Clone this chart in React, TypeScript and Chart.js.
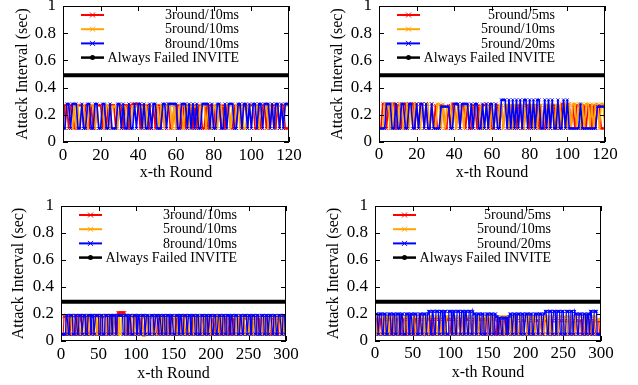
import React, { useEffect, useRef } from "react";
import { Chart, registerables } from "chart.js";

Chart.register(...registerables);

const FONT = "'Liberation Serif', 'Times New Roman', Times, serif";

// ---------- tick labels / texts ----------
const yTickValues = [0, 0.2, 0.4, 0.6, 0.8, 1];
const xTickValuesTop = [0, 20, 40, 60, 80, 100, 120];
const xTickValuesBottom = [0, 50, 100, 150, 200, 250, 300];
const labelsRounds = ["3round/10ms", "5round/10ms", "8round/10ms"];
const labelsDelays = ["5round/5ms", "5round/10ms", "5round/20ms"];
const failLabel = "Always Failed INVITE";
const xTitle = "x-th Round";
const yTitle = "Attack Interval (sec)";

// ---------- Always Failed INVITE ----------
const failTopX = [0, 120];
const failTopY = [0.49, 0.49];
const failBottomX = [0, 300];
const failBottomY = [0.29, 0.29];

// ---------- top-left (rounds 0..120) ----------
const tlRed = [
  .1,.27,.27,.1,.27,.27,.1,.1,.27,.27,
  .27,.1,.27,.27,.1,.27,.1,.1,.27,.27,
  .27,.1,.27,.1,.27,.27,.27,.27,.1,.27,
  .27,.27,.1,.27,.27,.1,.27,.28,.28,.28,
  .28,.1,.27,.27,.27,.27,.1,.1,.27,.1,
  .27,.27,.1,.27,.1,.27,.28,.1,.1,.27,
  .1,.27,.27,.1,.27,.1,.27,.27,.27,.1,
  .27,.1,.27,.27,.1,.1,.27,.1,.27,.27,
  .1,.27,.27,.27,.1,.27,.1,.27,.27,.1,
  .1,.27,.1,.27,.27,.1,.27,.27,.1,.27,
  .27,.27,.1,.1,.27,.1,.27,.27,.1,.27,
  .1,.27,.27,.1,.27,.1,.27,.27,.1,.1,
  .1];
const tlOrange = [
  .1,.1,.27,.27,.1,.1,.27,.1,.27,.1,
  .27,.27,.1,.1,.27,.27,.27,.1,.27,.1,
  .1,.27,.1,.27,.27,.1,.26,.26,.26,.1,
  .27,.1,.26,.26,.1,.27,.1,.26,.26,.26,
  .26,.26,.26,.1,.27,.1,.26,.26,.27,.27,
  .27,.1,.27,.27,.1,.27,.27,.27,.1,.27,
  .1,.1,.27,.27,.1,.27,.27,.1,.27,.27,
  .26,.26,.1,.27,.27,.27,.1,.27,.1,.1,
  .27,.27,.1,.27,.27,.1,.27,.27,.27,.1,
  .27,.1,.27,.27,.1,.27,.1,.1,.27,.27,
  .1,.27,.27,.27,.1,.27,.1,.27,.27,.1,
  .27,.27,.1,.27,.27,.1,.27,.1,.27,.27,
  .27];
const tlBlue = [
  .1,.1,.28,.28,.1,.28,.28,.28,.1,.1,
  .28,.1,.1,.28,.28,.1,.1,.28,.28,.1,
  .1,.28,.28,.1,.1,.28,.1,.1,.1,.28,
  .28,.1,.28,.1,.1,.28,.1,.1,.28,.1,
  .28,.28,.1,.28,.1,.1,.28,.1,.28,.28,
  .1,.1,.1,.28,.28,.1,.28,.28,.28,.28,
  .28,.1,.1,.28,.28,.28,.1,.28,.1,.28,
  .1,.28,.1,.1,.28,.28,.28,.28,.1,.28,
  .1,.1,.28,.28,.1,.1,.28,.1,.28,.28,
  .28,.1,.1,.28,.28,.1,.28,.28,.1,.28,
  .1,.28,.28,.1,.28,.28,.1,.28,.28,.28,
  .1,.28,.1,.28,.28,.1,.28,.1,.28,.28,
  .28];

// ---------- top-right (rounds 0..120) ----------
const trRed = [
  .1,.1,.28,.28,.1,.28,.1,.28,.28,.1,
  .27,.28,.1,.28,.28,.1,.28,.28,.28,.1,
  .28,.1,.28,.28,.1,.28,.1,.1,.28,.1,
  .27,.1,.1,.27,.27,.1,.1,.27,.1,.28,
  .28,.1,.28,.1,.27,.27,.1,.27,.1,.1,
  .27,.27,.1,.27,.1,.27,.27,.28,.1,.27,
  .1,.1,.27,.27,.1,.27,.1,.27,.27,.1,
  .27,.1,.27,.1,.27,.27,.1,.1,.27,.27,
  .1,.27,.1,.27,.27,.1,.27,.1,.1,.27,
  .27,.1,.27,.27,.1,.27,.1,.28,.28,.1,
  .27,.28,.1,.27,.1,.27,.27,.1,.1,.27,
  .1,.27,.27,.1,.27,.1,.27,.27,.1,.1,
  .1];
const trOrange = [
  .1,.1,.1,.28,.28,.28,.1,.28,.1,.28,
  .1,.28,.28,.1,.1,.28,.1,.28,.1,.28,
  .28,.1,.1,.28,.1,.28,.28,.1,.28,.1,
  .1,.28,.28,.1,.28,.1,.26,.26,.26,.1,
  .26,.1,.26,.26,.26,.1,.26,.26,.1,.27,
  .1,.27,.27,.1,.27,.1,.1,.27,.27,.1,
  .27,.1,.27,.1,.27,.27,.1,.27,.27,.1,
  .27,.1,.27,.27,.1,.27,.27,.1,.27,.1,
  .27,.27,.1,.27,.1,.27,.27,.1,.27,.27,
  .1,.27,.27,.1,.27,.1,.27,.1,.28,.28,
  .1,.28,.1,.28,.28,.1,.28,.1,.28,.1,
  .28,.28,.1,.28,.1,.28,.28,.1,.28,.28,
  .1];
const trBlue = [
  .1,.1,.1,.1,.28,.28,.28,.1,.1,.28,
  .1,.1,.28,.28,.1,.1,.28,.28,.1,.1,
  .28,.1,.28,.28,.1,.28,.1,.1,.28,.1,
  .1,.1,.1,.26,.26,.26,.26,.26,.1,.1,
  .28,.28,.28,.1,.28,.28,.28,.28,.1,.28,
  .1,.28,.28,.1,.1,.28,.1,.28,.1,.28,
  .28,.1,.28,.1,.1,.31,.31,.31,.1,.31,
  .1,.31,.1,.31,.1,.31,.1,.31,.31,.1,
  .31,.1,.31,.1,.31,.31,.1,.1,.31,.1,
  .31,.1,.31,.1,.1,.31,.1,.1,.31,.1,
  .31,.1,.1,.1,.1,.1,.1,.28,.1,.1,
  .1,.1,.1,.1,.1,.1,.26,.26,.26,.26,
  .26];

// ---------- bottom-left (rounds 1..300) ----------
const blRed = [
  .05,.05,.05,.18,.18,.18,.05,.05,.18,.18,.05,.05,.05,.18,.18,.18,.18,.05,.05,.18,
  .18,.18,.05,.05,.05,.18,.18,.05,.05,.18,.18,.18,.05,.05,.18,.18,.05,.05,.05,.18,
  .18,.18,.18,.05,.05,.18,.18,.05,.05,.05,.18,.18,.18,.05,.05,.18,.18,.18,.05,.05,
  .18,.18,.05,.05,.05,.18,.18,.18,.05,.05,.18,.18,.05,.05,.05,.21,.21,.21,.21,.21,
  .21,.21,.21,.21,.21,.05,.05,.18,.18,.18,.05,.05,.18,.18,.05,.05,.05,.18,.18,.18,
  .05,.05,.18,.18,.05,.05,.18,.18,.18,.05,.05,.05,.18,.18,.18,.05,.05,.18,.18,.05,
  .05,.05,.18,.18,.18,.18,.05,.05,.18,.18,.05,.05,.05,.18,.18,.18,.05,.05,.18,.18,
  .05,.05,.05,.18,.18,.05,.05,.18,.18,.18,.05,.05,.18,.18,.05,.05,.05,.18,.19,.19,
  .05,.05,.18,.18,.18,.05,.05,.18,.18,.05,.05,.05,.18,.18,.18,.05,.05,.18,.18,.05,
  .05,.18,.18,.18,.05,.05,.05,.18,.18,.05,.05,.18,.18,.18,.05,.05,.18,.18,.05,.05,
  .05,.18,.18,.05,.05,.18,.18,.18,.05,.17,.17,.05,.05,.17,.17,.17,.05,.05,.17,.17,
  .05,.05,.05,.17,.17,.17,.05,.05,.17,.17,.05,.05,.17,.17,.17,.17,.05,.05,.17,.17,
  .05,.05,.17,.17,.17,.05,.05,.05,.17,.17,.05,.05,.17,.17,.17,.05,.05,.17,.17,.05,
  .05,.17,.17,.17,.05,.05,.17,.17,.05,.05,.05,.17,.17,.17,.05,.05,.17,.17,.05,.05,
  .17,.17,.17,.05,.05,.17,.17,.05,.05,.05,.17,.17,.17,.05,.05,.17,.17,.17,.17,.17];
const blOrange = [
  .05,.05,.05,.05,.05,.05,.19,.19,.05,.05,.05,.19,.19,.19,.05,.05,.19,.19,.19,.19,
  .05,.05,.05,.19,.19,.05,.05,.19,.19,.19,.05,.05,.05,.19,.19,.05,.05,.19,.19,.19,
  .19,.05,.05,.05,.19,.19,.19,.05,.05,.19,.19,.05,.05,.05,.19,.19,.19,.19,.05,.05,
  .19,.19,.19,.05,.05,.05,.19,.19,.05,.05,.19,.19,.19,.05,.05,.05,.19,.19,.05,.05,
  .19,.19,.19,.19,.05,.05,.19,.19,.05,.05,.05,.19,.19,.19,.05,.05,.19,.19,.19,.05,
  .05,.05,.18,.18,.18,.05,.05,.18,.18,.04,.04,.18,.18,.18,.18,.05,.05,.18,.18,.05,
  .05,.05,.18,.18,.18,.05,.05,.05,.18,.18,.18,.18,.05,.05,.18,.18,.05,.05,.05,.18,
  .18,.18,.05,.05,.18,.18,.18,.05,.05,.05,.18,.18,.18,.05,.05,.18,.18,.18,.18,.05,
  .05,.05,.18,.18,.05,.05,.05,.18,.18,.18,.05,.05,.18,.18,.18,.18,.05,.05,.05,.18,
  .18,.18,.05,.05,.18,.18,.18,.05,.05,.18,.18,.05,.05,.05,.18,.18,.18,.05,.05,.18,
  .18,.18,.18,.05,.05,.05,.18,.18,.05,.05,.18,.18,.18,.18,.05,.05,.18,.18,.05,.05,
  .05,.18,.18,.18,.05,.05,.18,.18,.18,.05,.05,.05,.18,.18,.05,.05,.18,.18,.18,.18,
  .05,.05,.18,.18,.18,.05,.05,.05,.18,.18,.05,.05,.18,.18,.18,.05,.05,.18,.18,.05,
  .05,.05,.18,.18,.18,.18,.05,.05,.18,.18,.18,.05,.05,.05,.18,.18,.05,.05,.18,.18,
  .18,.05,.05,.05,.18,.18,.18,.05,.05,.18,.18,.18,.05,.05,.18,.18,.05,.05,.17,.17];
const blBlue = [
  .05,.05,.05,.05,.05,.05,.19,.19,.19,.05,.05,.19,.19,.19,.19,.05,.05,.05,.19,.19,
  .19,.05,.05,.19,.19,.19,.19,.05,.05,.19,.19,.19,.05,.05,.05,.19,.19,.19,.19,.05,
  .19,.19,.19,.05,.05,.19,.19,.19,.19,.19,.05,.05,.19,.19,.19,.05,.05,.05,.19,.19,
  .19,.19,.05,.05,.19,.19,.19,.05,.19,.19,.19,.19,.05,.05,.19,.19,.19,.19,.19,.19,
  .19,.19,.05,.05,.19,.19,.19,.19,.05,.05,.19,.19,.19,.05,.05,.05,.19,.19,.19,.19,
  .05,.05,.19,.19,.19,.05,.05,.19,.19,.19,.19,.05,.05,.19,.19,.19,.05,.05,.05,.19,
  .19,.19,.19,.05,.05,.19,.19,.19,.19,.05,.19,.19,.19,.05,.05,.19,.19,.19,.05,.05,
  .19,.19,.19,.19,.05,.05,.19,.19,.19,.05,.05,.05,.19,.19,.19,.19,.05,.05,.19,.19,
  .19,.05,.05,.19,.19,.19,.19,.05,.05,.19,.19,.19,.05,.05,.19,.19,.19,.19,.05,.05,
  .19,.19,.19,.05,.05,.05,.19,.19,.19,.19,.05,.05,.19,.19,.19,.05,.05,.19,.19,.19,
  .19,.05,.05,.19,.19,.19,.05,.05,.05,.19,.19,.19,.19,.05,.05,.19,.19,.19,.05,.05,
  .19,.19,.19,.19,.05,.05,.19,.19,.19,.05,.05,.19,.19,.19,.19,.05,.05,.05,.19,.19,
  .19,.05,.05,.19,.19,.19,.19,.05,.05,.19,.19,.19,.05,.05,.19,.19,.19,.19,.05,.05,
  .19,.19,.19,.05,.05,.05,.19,.19,.19,.19,.05,.05,.19,.19,.19,.05,.05,.19,.19,.19,
  .19,.05,.05,.19,.19,.19,.05,.05,.05,.19,.19,.19,.19,.05,.05,.19,.19,.19,.05,.05];

// ---------- bottom-right (rounds 1..300) ----------
const brRed = [
  .05,.16,.16,.16,.05,.05,.16,.16,.05,.05,.05,.16,.16,.16,.05,.05,.16,.16,.16,.16,
  .05,.05,.16,.16,.05,.05,.05,.16,.16,.16,.05,.05,.16,.16,.16,.05,.05,.16,.16,.05,
  .05,.05,.16,.16,.16,.16,.05,.05,.16,.16,.05,.05,.05,.16,.16,.16,.05,.05,.16,.16,
  .16,.05,.05,.16,.16,.05,.05,.05,.16,.16,.16,.16,.05,.05,.16,.16,.05,.05,.05,.16,
  .16,.16,.05,.05,.16,.16,.16,.05,.05,.16,.16,.05,.05,.05,.16,.16,.16,.16,.05,.05,
  .16,.16,.05,.05,.05,.16,.16,.16,.05,.05,.16,.16,.16,.05,.05,.16,.16,.05,.05,.05,
  .16,.16,.16,.16,.05,.05,.16,.16,.05,.05,.16,.16,.16,.05,.05,.05,.16,.16,.05,.05,
  .16,.16,.16,.05,.05,.16,.16,.16,.16,.05,.05,.16,.16,.05,.05,.05,.16,.16,.16,.05,
  .05,.15,.15,.05,.05,.15,.15,.15,.05,.05,.05,.15,.15,.15,.15,.05,.05,.15,.15,.05,
  .05,.05,.15,.15,.15,.05,.05,.15,.15,.05,.05,.05,.15,.15,.15,.05,.05,.15,.15,.15,
  .15,.05,.05,.15,.15,.05,.05,.05,.15,.15,.15,.05,.05,.15,.15,.15,.15,.05,.05,.15,
  .15,.05,.05,.05,.15,.15,.15,.05,.05,.15,.15,.05,.05,.15,.15,.15,.05,.05,.05,.15,
  .15,.15,.05,.05,.15,.15,.15,.15,.05,.05,.15,.15,.05,.05,.05,.15,.15,.15,.05,.05,
  .15,.15,.05,.05,.05,.15,.15,.15,.05,.05,.15,.15,.15,.05,.05,.15,.15,.05,.05,.05,
  .15,.15,.15,.05,.05,.15,.15,.05,.05,.15,.15,.15,.05,.05,.15,.15,.15,.05,.05,.15];
const brOrange = [
  .05,.05,.18,.18,.18,.05,.05,.05,.18,.18,.05,.05,.18,.18,.18,.18,.05,.05,.05,.18,
  .18,.18,.05,.05,.18,.18,.18,.05,.05,.05,.18,.18,.05,.05,.18,.18,.18,.05,.05,.18,
  .18,.18,.18,.05,.05,.05,.18,.18,.05,.05,.18,.18,.18,.05,.05,.18,.18,.05,.05,.05,
  .18,.18,.18,.18,.05,.05,.18,.18,.05,.05,.05,.18,.18,.18,.18,.18,.18,.18,.05,.05,
  .18,.18,.05,.05,.18,.18,.18,.05,.05,.05,.18,.18,.05,.05,.18,.18,.18,.18,.05,.05,
  .05,.18,.18,.05,.05,.18,.18,.18,.05,.05,.18,.18,.05,.05,.05,.18,.18,.18,.05,.05,
  .18,.18,.18,.18,.05,.05,.18,.18,.05,.05,.05,.18,.18,.18,.05,.05,.18,.18,.05,.05,
  .05,.18,.18,.18,.05,.05,.18,.18,.18,.18,.05,.05,.18,.18,.05,.05,.05,.18,.18,.18,
  .18,.18,.18,.18,.05,.05,.18,.18,.18,.18,.18,.05,.05,.18,.18,.18,.05,.05,.18,.18,
  .05,.05,.18,.18,.18,.05,.05,.18,.18,.05,.05,.05,.18,.18,.18,.05,.05,.18,.18,.18,
  .18,.05,.05,.18,.18,.05,.05,.05,.18,.18,.18,.05,.05,.18,.18,.18,.18,.05,.05,.18,
  .18,.05,.05,.05,.18,.18,.18,.05,.05,.18,.18,.05,.05,.18,.18,.18,.05,.05,.05,.18,
  .18,.18,.05,.05,.18,.18,.18,.18,.05,.05,.18,.18,.05,.05,.05,.18,.18,.18,.05,.05,
  .18,.18,.05,.05,.05,.18,.18,.18,.05,.05,.18,.18,.18,.18,.05,.05,.18,.18,.05,.05,
  .05,.18,.18,.18,.05,.05,.18,.18,.05,.05,.18,.18,.18,.05,.16,.16,.16,.16,.16,.16];
const brBlue = [
  .2,.2,.2,.05,.05,.2,.2,.2,.2,.05,.05,.2,.2,.2,.05,.05,.05,.2,.2,.2,
  .2,.05,.05,.2,.2,.2,.05,.05,.2,.2,.2,.2,.05,.05,.2,.2,.2,.05,.05,.05,
  .2,.2,.2,.2,.05,.05,.2,.2,.2,.05,.05,.2,.2,.2,.2,.05,.05,.05,.2,.2,
  .2,.05,.05,.2,.2,.2,.2,.05,.05,.2,.22,.22,.22,.05,.05,.22,.22,.22,.05,.05,
  .22,.22,.22,.22,.05,.05,.22,.22,.22,.05,.05,.22,.22,.22,.05,.05,.05,.22,.22,.22,
  .22,.05,.05,.22,.22,.22,.05,.05,.22,.22,.22,.22,.05,.05,.22,.22,.22,.05,.05,.22,
  .22,.22,.05,.05,.22,.22,.22,.05,.05,.22,.2,.2,.2,.05,.05,.2,.2,.2,.2,.05,
  .05,.2,.2,.2,.05,.05,.05,.2,.2,.2,.2,.05,.05,.2,.2,.2,.05,.05,.2,.2,
  .18,.18,.05,.05,.17,.17,.17,.05,.05,.17,.17,.17,.17,.05,.17,.17,.05,.18,.2,.2,
  .2,.05,.05,.2,.2,.2,.05,.05,.2,.2,.2,.2,.05,.05,.2,.2,.2,.05,.05,.2,
  .2,.2,.2,.05,.05,.2,.2,.2,.05,.05,.05,.2,.2,.2,.2,.05,.05,.2,.2,.2,
  .2,.05,.05,.2,.2,.22,.22,.22,.05,.05,.22,.22,.22,.22,.05,.05,.22,.22,.22,.05,
  .05,.22,.22,.22,.22,.05,.05,.22,.22,.22,.05,.05,.05,.22,.22,.22,.22,.05,.05,.22,
  .22,.22,.05,.05,.22,.2,.2,.2,.05,.05,.2,.2,.2,.2,.05,.05,.2,.2,.2,.05,
  .05,.2,.2,.2,.05,.22,.22,.22,.05,.05,.22,.22,.22,.22,.05,.05,.05,.05,.05,.05];

const RED = "#ff0000";
const ORANGE = "#ffa500";
const BLUE = "#0000ff";

const TICK_FONT = 17;
const TITLE_FONT = 16;
const LEGEND_FONT = 14;

type Series = { label: string; color: string; data: number[] };
type PanelSpec = {
  left: number; top: number; w: number; h: number;
  area: { l: number; t: number; r: number; b: number };
  xMax: number; xTicks: number[]; xStart: number; lineWidth: number;
  series: Series[];
  failX: number[]; failY: number[];
  xTickCenter: number; xTitleCenter: number; yTitleCenter: number;
};

const panels: PanelSpec[] = [
  {
    left: 0, top: 0, w: 319, h: 192,
    area: { l: 63, t: 6, r: 289, b: 142 },
    xMax: 120, xTicks: xTickValuesTop, xStart: 0, lineWidth: 1.6,
    series: [
      { label: labelsRounds[0], color: RED, data: tlRed },
      { label: labelsRounds[1], color: ORANGE, data: tlOrange },
      { label: labelsRounds[2], color: BLUE, data: tlBlue },
    ],
    failX: failTopX, failY: failTopY,
    xTickCenter: 155.3, xTitleCenter: 172.5, yTitleCenter: 22.5,
  },
  {
    left: 319, top: 0, w: 319, h: 192,
    area: { l: 60, t: 6, r: 286, b: 142 },
    xMax: 120, xTicks: xTickValuesTop, xStart: 0, lineWidth: 1.6,
    series: [
      { label: labelsDelays[0], color: RED, data: trRed },
      { label: labelsDelays[1], color: ORANGE, data: trOrange },
      { label: labelsDelays[2], color: BLUE, data: trBlue },
    ],
    failX: failTopX, failY: failTopY,
    xTickCenter: 154.8, xTitleCenter: 173.2, yTitleCenter: 18.7,
  },
  {
    left: 0, top: 192, w: 319, h: 193,
    area: { l: 61, t: 14, r: 286, b: 149 },
    xMax: 300, xTicks: xTickValuesBottom, xStart: 1, lineWidth: 1.2,
    series: [
      { label: labelsRounds[0], color: RED, data: blRed },
      { label: labelsRounds[1], color: ORANGE, data: blOrange },
      { label: labelsRounds[2], color: BLUE, data: blBlue },
    ],
    failX: failBottomX, failY: failBottomY,
    xTickCenter: 162.7, xTitleCenter: 182, yTitleCenter: 18.8,
  },
  {
    left: 319, top: 192, w: 319, h: 193,
    area: { l: 56, t: 14, r: 282, b: 149 },
    xMax: 300, xTicks: xTickValuesBottom, xStart: 1, lineWidth: 1.2,
    series: [
      { label: labelsDelays[0], color: RED, data: brRed },
      { label: labelsDelays[1], color: ORANGE, data: brOrange },
      { label: labelsDelays[2], color: BLUE, data: brBlue },
    ],
    failX: failBottomX, failY: failBottomY,
    xTickCenter: 162, xTitleCenter: 180.7, yTitleCenter: 15,
  },
];

function drawMarker(ctx: CanvasRenderingContext2D, kind: string, x: number, y: number, color: string) {
  ctx.save();
  if (kind === "cross") {
    ctx.strokeStyle = color;
    ctx.lineWidth = 1;
    ctx.beginPath();
    ctx.moveTo(x - 2.5, y - 2.5); ctx.lineTo(x + 2.5, y + 2.5);
    ctx.moveTo(x + 2.5, y - 2.5); ctx.lineTo(x - 2.5, y + 2.5);
    ctx.stroke();
  } else {
    ctx.fillStyle = color;
    ctx.beginPath();
    ctx.arc(x, y, 2.5, 0, Math.PI * 2);
    ctx.fill();
  }
  ctx.restore();
}

function buildConfig(p: PanelSpec): any {
  const tickLH = TICK_FONT * 1.2;
  const titleLH = TITLE_FONT * 1.2;
  const datasets: any[] = p.series.map((s, k) => ({
    label: s.label,
    data: s.data.map((v, i) => ({ x: i + p.xStart, y: v })),
    borderColor: s.color,
    backgroundColor: s.color,
    borderWidth: p.lineWidth,
    pointStyle: "crossRot",
    pointRadius: 2,
    pointBorderWidth: 1,
    pointBorderColor: s.color,
    tension: 0,
    order: 3 - k,
  }));
  datasets.push({
    label: failLabel,
    data: p.failX.map((x, i) => ({ x, y: p.failY[i] })),
    borderColor: "#000",
    backgroundColor: "#000",
    borderWidth: 4,
    pointRadius: 0,
    tension: 0,
    order: 0,
  });

  const frame = {
    id: "gnuplotFrame",
    afterDraw(chart: any) {
      const { ctx, chartArea: a, scales } = chart;
      ctx.save();
      ctx.strokeStyle = "#000";
      ctx.lineWidth = 1;
      ctx.strokeRect(a.left + 0.5, a.top + 0.5, a.right - a.left - 1, a.bottom - a.top - 1);
      ctx.beginPath();
      for (const t of scales.x.ticks) {
        const px = Math.round(scales.x.getPixelForValue(t.value)) + 0.5;
        ctx.moveTo(px, a.bottom); ctx.lineTo(px, a.bottom - 5);
        ctx.moveTo(px, a.top); ctx.lineTo(px, a.top + 5);
      }
      for (const t of scales.y.ticks) {
        const py = Math.round(scales.y.getPixelForValue(t.value)) + 0.5;
        ctx.moveTo(a.left, py); ctx.lineTo(a.left + 5, py);
        ctx.moveTo(a.right, py); ctx.lineTo(a.right - 5, py);
      }
      ctx.stroke();

      // legend inside the plot (gnuplot style: sample left, text right-aligned)
      const entries = [
        ...p.series.map((s) => ({ label: s.label, color: s.color, marker: "cross", lw: 2 })),
        { label: failLabel, color: "#000", marker: "dot", lw: 2.5 },
      ];
      ctx.font = `${LEGEND_FONT}px ${FONT}`;
      ctx.textAlign = "right";
      ctx.textBaseline = "middle";
      entries.forEach((e, i) => {
        const yy = a.top + 9 + i * 14.2;
        const x0 = a.left + 18;
        const x1 = a.left + 41;
        ctx.strokeStyle = e.color;
        ctx.lineWidth = e.lw;
        ctx.beginPath();
        ctx.moveTo(x0, yy); ctx.lineTo(x1, yy);
        ctx.stroke();
        drawMarker(ctx, e.marker, (x0 + x1) / 2, yy, e.color);
        ctx.fillStyle = "#000";
        ctx.fillText(e.label, a.left + 176, yy + 0.5);
      });
      ctx.restore();
    },
  };

  return {
    type: "line",
    data: { datasets },
    plugins: [frame],
    options: {
      animation: false,
      responsive: false,
      events: [],
      devicePixelRatio: 1,
      layout: { padding: { left: 0, top: p.area.t, right: p.w - p.area.r, bottom: 0 } },
      plugins: { legend: { display: false }, tooltip: { enabled: false } },
      scales: {
        x: {
          type: "linear",
          min: 0,
          max: p.xMax,
          grid: { display: false, drawTicks: false },
          border: { display: false },
          afterBuildTicks: (s: any) => { s.ticks = p.xTicks.map((v) => ({ value: v })); },
          afterFit: (s: any) => { s.height = p.h - p.area.b; s.paddingLeft = 0; s.paddingRight = 0; },
          ticks: {
            color: "#000",
            font: { family: FONT, size: TICK_FONT },
            padding: p.xTickCenter - p.area.b - tickLH / 2,
            maxRotation: 0,
            autoSkip: false,
            callback: (v: any) => String(v),
          },
          title: {
            display: true,
            text: xTitle,
            color: "#000",
            font: { family: FONT, size: TITLE_FONT },
            padding: { top: 0, bottom: p.h - p.xTitleCenter - titleLH / 2 },
          },
        },
        y: {
          type: "linear",
          min: 0,
          max: 1,
          grid: { display: false, drawTicks: false },
          border: { display: false },
          afterBuildTicks: (s: any) => { s.ticks = yTickValues.map((v) => ({ value: v })); },
          afterFit: (s: any) => { s.width = p.area.l; s.paddingTop = 0; s.paddingBottom = 0; },
          ticks: {
            color: "#000",
            font: { family: FONT, size: TICK_FONT },
            padding: 7,
            autoSkip: false,
            callback: (v: any) => String(v),
          },
          title: {
            display: true,
            text: yTitle,
            color: "#000",
            font: { family: FONT, size: TITLE_FONT },
            padding: { top: p.yTitleCenter - titleLH / 2, bottom: 0 },
          },
        },
      },
    },
  };
}

function Panel({ p }: { p: PanelSpec }) {
  const ref = useRef<HTMLCanvasElement>(null);
  useEffect(() => {
    const chart = new Chart(ref.current as HTMLCanvasElement, buildConfig(p));
    return () => chart.destroy();
  }, [p]);
  return (
    <canvas
      ref={ref}
      width={p.w}
      height={p.h}
      style={{ position: "absolute", left: p.left, top: p.top, width: p.w, height: p.h }}
    />
  );
}

export default function App() {
  return (
    <div style={{ position: "absolute", left: 0, top: 0, width: 638, height: 385, background: "#fff" }}>
      {panels.map((p, i) => (
        <Panel key={i} p={p} />
      ))}
    </div>
  );
}
